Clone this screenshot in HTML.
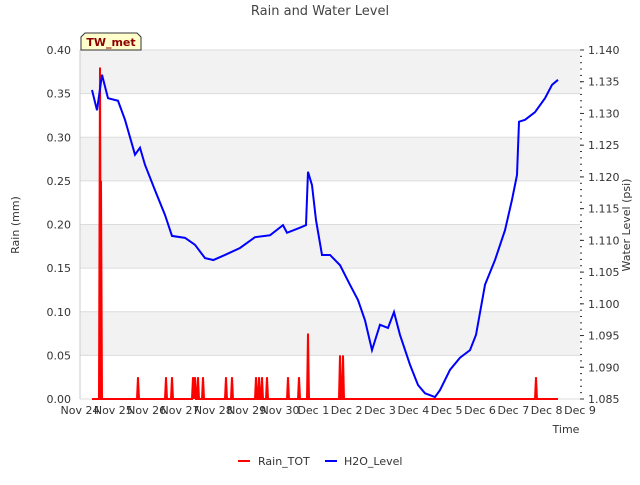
<!DOCTYPE html>
<html><head><meta charset="utf-8"><style>
body{margin:0;background:#fff;font-family:"Liberation Sans","DejaVu Sans",sans-serif}
text{font-family:"DejaVu Sans","Liberation Sans",sans-serif}
</style></head><body>
<svg id="c" width="640" height="480" xmlns="http://www.w3.org/2000/svg"></svg>
<script>
const dayLabels=["Nov 24","Nov 25","Nov 26","Nov 27","Nov 28","Nov 29","Nov 30","Dec 1","Dec 2","Dec 3","Dec 4","Dec 5","Dec 6","Dec 7","Dec 8","Dec 9"];
const leftTicks=[0,0.05,0.1,0.15,0.2,0.25,0.3,0.35,0.4];
const rightTicks=[1.085,1.09,1.095,1.1,1.105,1.11,1.115,1.12,1.125,1.13,1.135,1.14];
const h2oT=[0.36,0.51,0.66,0.84,1.14,1.35,1.65,1.8,1.95,2.25,2.55,2.76,3.15,3.45,3.75,4.0,4.35,4.8,5.25,5.7,6.09,6.21,6.6,6.78,6.84,6.96,7.08,7.26,7.5,7.8,8.1,8.34,8.55,8.76,9.0,9.24,9.42,9.6,9.9,10.14,10.35,10.65,10.8,11.1,11.4,11.7,11.88,12.15,12.45,12.75,12.96,13.11,13.17,13.35,13.65,13.95,14.16,14.34];
const h2oV=[1.1337,1.1305,1.1361,1.1324,1.132,1.129,1.1235,1.1246,1.1219,1.1179,1.114,1.1107,1.1104,1.1093,1.1072,1.1069,1.1077,1.1088,1.1105,1.1108,1.1124,1.1112,1.112,1.1124,1.1208,1.1187,1.1132,1.1077,1.1077,1.1061,1.103,1.1006,1.0974,1.0927,1.0967,1.0962,1.0987,1.0951,1.0904,1.0872,1.0859,1.0853,1.0864,1.0896,1.0915,1.0927,1.0951,1.103,1.1069,1.1116,1.1164,1.1203,1.1287,1.129,1.1302,1.1324,1.1345,1.1353];
const rainT=[0.6,0.63,1.74,2.58,2.76,3.39,3.45,3.54,3.69,4.38,4.56,5.28,5.37,5.46,5.61,6.24,6.57,6.84,7.8,7.89,13.68];
const rainV=[0.38,0.25,0.025,0.025,0.025,0.025,0.025,0.025,0.025,0.025,0.025,0.025,0.025,0.025,0.025,0.025,0.025,0.075,0.05,0.05,0.025];
const X0=80,X1=580,Y0=399,Y1=50;
const xs=t=>X0+t*(X1-X0)/15;
const yl=v=>Y0-v/0.4*(Y0-Y1);
const yr=v=>Y0-(v-1.085)/0.055*(Y0-Y1);
const s=document.getElementById('c');
function el(tag,a,txt){const e=document.createElementNS('http://www.w3.org/2000/svg',tag);for(const k in a)e.setAttribute(k,a[k]);if(txt!==undefined)e.textContent=txt;s.appendChild(e);return e;}
// bands
for(let i=0;i<8;i++){const r=el('rect',{x:X0,y:yl(leftTicks[i+1]),width:X1-X0,height:yl(leftTicks[i])-yl(leftTicks[i+1]),fill:i%2?'#f2f2f2':'#fff'});

}
leftTicks.forEach(v=>{const l=el('line',{x1:X0,x2:X1,y1:yl(v),y2:yl(v),stroke:'#dcdcdc'});


const t=el('text',{x:X0-9,y:yl(v)+4,'text-anchor':'end','font-size':11,fill:'#333'},v.toFixed(2));

});
el('line',{x1:X0,x2:X0,y1:Y1,y2:Y0,stroke:'#ccc'});
rightTicks.forEach(v=>{el('line',{x1:X1,x2:X1+4,y1:yr(v),y2:yr(v),stroke:'#333'});
const t=el('text',{x:X1+8,y:yr(v)+4,'font-size':11,fill:'#333'},v.toFixed(3));

});
for(let v=1.085;v<1.1401;v+=0.001)el('line',{x1:X1,x2:X1+2,y1:yr(v),y2:yr(v),stroke:'#333'});
dayLabels.forEach((d,i)=>{const t=el('text',{x:xs(i),y:414,'text-anchor':'middle','font-size':11,fill:'#333'},d);

});
// rain
let d='M'+xs(0.36)+' '+yl(0);
rainT.forEach((t,i)=>{d+=` L${xs(t)-1} ${yl(0)} L${xs(t)} ${yl(rainV[i])} L${xs(t)+1} ${yl(0)}`;});
d+=` L${xs(14.34)} ${yl(0)}`;
const rp=el('path',{d,fill:'none',stroke:'#f00','stroke-width':2});


const hp=el('path',{d:h2oT.map((t,i)=>(i?'L':'M')+xs(t)+' '+yr(h2oV[i])).join(' '),fill:'none',stroke:'#00f','stroke-width':2});


const tt=el('text',{x:320,y:15,'text-anchor':'middle','font-size':13,fill:'#444'},'Rain and Water Level');


const xl=el('text',{x:566,y:433,'text-anchor':'middle','font-size':11,fill:'#333'},'Time');


const yl1=el('text',{x:19,y:225,'text-anchor':'middle','font-size':11,fill:'#333',transform:'rotate(-90 19 225)'},'Rain (mm)');


const yr1=el('text',{x:630,y:225,'text-anchor':'middle','font-size':11,fill:'#333',transform:'rotate(-90 630 225)'},'Water Level (psi)');


const tb=el('path',{d:'M81 50 L81 37 L85 33 L137 33 L141 37 L141 50 Z',fill:'#ffffcc',stroke:'#333'});


const tbt=el('text',{x:111,y:46,'text-anchor':'middle','font-size':11,'font-weight':'bold',fill:'#8b0000'},'TW_met');


el('line',{x1:238,x2:250,y1:461,y2:461,stroke:'#f00','stroke-width':2});
const l1=el('text',{x:258,y:465,'font-size':11,fill:'#333'},'Rain_TOT');


el('line',{x1:325,x2:337,y1:461,y2:461,stroke:'#00f','stroke-width':2});
const l2=el('text',{x:344,y:465,'font-size':11,fill:'#333'},'H2O_Level');


</script>
</body></html>
